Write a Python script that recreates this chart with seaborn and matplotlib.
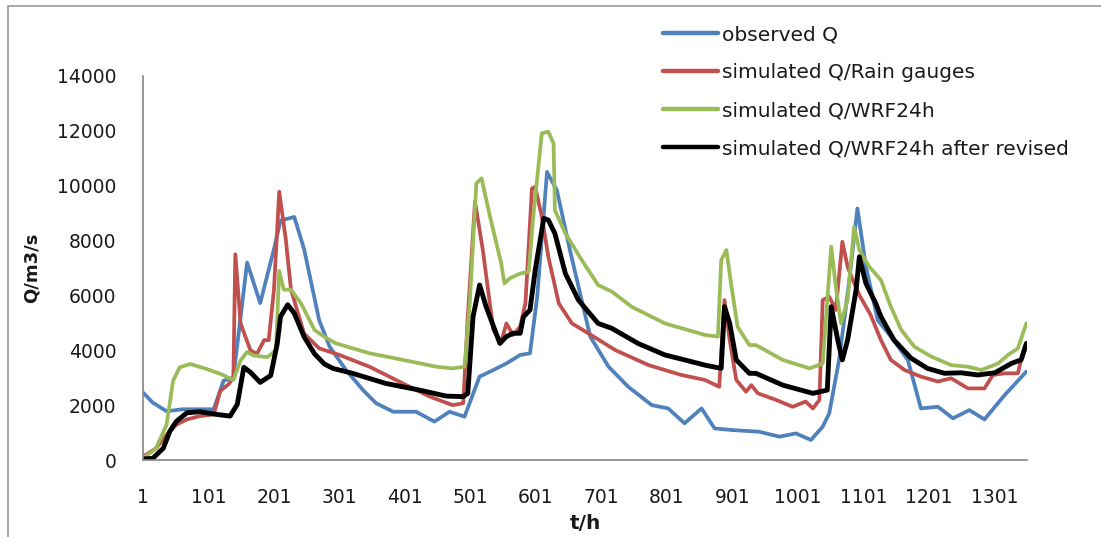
import matplotlib
matplotlib.use("Agg")
import matplotlib.pyplot as plt
from matplotlib.lines import Line2D
import pandas as pd
import seaborn as sns

# series (t in hours, Q in m3/s)
obs_t = [1, 16, 37, 62, 109, 124, 139, 160, 180, 201, 211, 232, 247, 270, 286,
         311, 337, 357, 383, 418, 446, 469, 492, 515, 536, 556, 577, 592, 603, 618,
         633, 653, 684, 712, 742, 778, 803, 828, 854, 874, 902, 942, 973, 998, 1021,
         1039, 1049, 1064, 1079, 1092, 1105, 1123, 1143, 1169, 1189, 1215, 1238, 1263, 1286, 1317,
         1350]
obs_q = [2460, 2090, 1780, 1850, 1850, 2890, 3010, 7200, 5720, 7690, 8730, 8860, 7690, 5100, 4130,
         3280, 2550, 2070, 1760, 1760, 1400, 1760, 1580, 3040, 3280, 3520, 3830, 3890, 5950, 10500,
         9840, 7650, 4500, 3400, 2670, 2000, 1880, 1340, 1880, 1150, 1090, 1030, 850, 970, 730,
         1215, 1700, 3650, 6440, 9170, 7050, 5100, 4500, 3650, 1880, 1940, 1520, 1820, 1480, 2370,
         3220]

rain_t = [1, 21, 37, 52, 68, 88, 109, 119, 132, 139, 142, 150, 165, 175, 186,
          193, 201, 209, 219, 227, 247, 270, 301, 347, 398, 439, 474, 490, 497, 508,
          520, 536, 548, 556, 566, 577, 585, 595, 600, 610, 620, 636, 656, 681, 722,
          773, 823, 859, 881, 889, 897, 907, 922, 930, 940, 968, 993, 1013, 1024, 1034,
          1039, 1049, 1059, 1069, 1077, 1085, 1095, 1112, 1128, 1143, 1164, 1189, 1215, 1235, 1261,
          1286, 1299, 1317, 1337, 1342, 1350]
rain_q = [120, 430, 920, 1290, 1480, 1600, 1660, 2520, 2770, 3010, 7500, 4980, 4000, 3870, 4370,
          4370, 6210, 9780, 8060, 6210, 4610, 4070, 3830, 3400, 2790, 2310, 2000, 2070, 5220, 9420,
          7650, 4740, 4310, 4980, 4560, 4860, 5710, 9900, 9960, 8870, 7410, 5710, 4980, 4620, 4010,
          3460, 3100, 2920, 2670, 5830, 4370, 2920, 2490, 2730, 2430, 2190, 1940, 2130, 1880, 2190,
          5830, 5950, 5470, 7960, 7050, 6560, 6010, 5300, 4370, 3650, 3280, 3040, 2860, 2980, 2610,
          2610, 3100, 3160, 3160, 3650, 4130]

wrf_t = [1, 21, 37, 47, 57, 73, 98, 119, 139, 150, 160, 170, 191, 204, 209,
         216, 227, 242, 263, 278, 296, 347, 398, 449, 474, 492, 500, 510, 518, 531,
         548, 553, 561, 577, 590, 597, 610, 620, 628, 630, 646, 671, 696, 717, 747,
         798, 833, 859, 879, 884, 892, 899, 909, 927, 937, 978, 1019, 1039, 1046, 1052,
         1059, 1067, 1077, 1087, 1095, 1110, 1128, 1143, 1159, 1179, 1205, 1235, 1261, 1281, 1307,
         1322, 1337, 1350]
wrf_q = [60, 430, 1290, 2890, 3380, 3500, 3320, 3140, 2920, 3630, 3940, 3810, 3750, 4000, 6890,
         6210, 6210, 5720, 4740, 4490, 4250, 3890, 3650, 3400, 3340, 3400, 5710, 10080, 10270, 8870,
         7170, 6440, 6620, 6800, 6860, 8870, 11910, 11970, 11540, 9110, 8260, 7290, 6380, 6140, 5590,
         4980, 4740, 4560, 4500, 7290, 7650, 6440, 4860, 4190, 4190, 3650, 3340, 3520, 5830, 7780,
         6320, 4980, 5830, 8500, 7650, 7050, 6560, 5590, 4740, 4130, 3770, 3460, 3400, 3280, 3520,
         3830, 4070, 4980]

rev_t = [1, 16, 32, 42, 52, 68, 88, 114, 134, 145, 155, 165, 180, 196, 206,
         211, 222, 232, 247, 263, 278, 291, 321, 372, 423, 464, 490, 497, 505, 515,
         525, 546, 556, 566, 577, 582, 592, 600, 613, 620, 630, 646, 666, 696, 717,
         757, 798, 828, 859, 884, 889, 897, 907, 927, 937, 978, 1024, 1046, 1052, 1062,
         1069, 1077, 1090, 1095, 1105, 1120, 1128, 1148, 1174, 1199, 1225, 1250, 1276, 1302, 1327,
         1342, 1350]
rev_q = [40, 60, 430, 1050, 1410, 1720, 1760, 1660, 1600, 2030, 3380, 3200, 2830, 3080, 4240,
         5230, 5660, 5350, 4490, 3870, 3500, 3340, 3160, 2790, 2550, 2330, 2310, 2430, 5220, 6380,
         5590, 4250, 4500, 4620, 4620, 5220, 5470, 6930, 8810, 8750, 8260, 6800, 5830, 4980, 4800,
         4250, 3830, 3650, 3460, 3340, 5590, 4980, 3650, 3160, 3160, 2730, 2430, 2550, 5590, 4370,
         3650, 4370, 6200, 7410, 6440, 5710, 5220, 4370, 3710, 3340, 3160, 3180, 3100, 3180, 3520,
         3650, 4250]

labels = ["observed Q", "simulated Q/Rain gauges", "simulated Q/WRF24h",
          "simulated Q/WRF24h after revised"]
colors = ["#4F81BD", "#C0504D", "#9BBB59", "#000000"]
widths = [2.7, 2.7, 2.7, 3.5]

x_labels = [1, 101, 201, 301, 401, 501, 601, 701, 801, 901, 1001, 1101, 1201, 1301]

frames = []
for name, t, q in zip(labels, [obs_t, rain_t, wrf_t, rev_t], [obs_q, rain_q, wrf_q, rev_q]):
    frames.append(pd.DataFrame({"t": t, "Q": q, "series": name}))
df = pd.concat(frames, ignore_index=True)

sns.set_style("white")
plt.rcParams["font.family"] = ["DejaVu Sans"]
axis_gray = "#868686"
text_col = "#1a1a1a"

fig = plt.figure(figsize=(11.01, 5.37), dpi=100)
ax = fig.add_axes([143 / 1101, 77 / 537, 884 / 1101, 384 / 537])

for name, c, lw in zip(labels, colors, widths):
    sns.lineplot(data=df[df["series"] == name], x="t", y="Q", color=c, linewidth=lw,
                 estimator=None, sort=False, label=name, ax=ax)

ax.set_xlim(1, 1351)
ax.set_ylim(0, 14000)
ax.set_yticks(range(0, 14001, 2000))
ax.set_xticks(x_labels)
ax.set_xticks(range(51, 1352, 100), minor=True)
ax.tick_params(axis="y", direction="out", length=5, width=1, color=axis_gray,
               labelsize=13.5, pad=14, labelcolor=text_col)
ax.tick_params(axis="x", which="both", direction="in", length=6, width=1, color=axis_gray,
               labelsize=13.5, pad=20, labelcolor=text_col)
for s in ["top", "right"]:
    ax.spines[s].set_visible(False)
for s in ["left", "bottom"]:
    ax.spines[s].set_color(axis_gray)
    ax.spines[s].set_linewidth(1.2)
ax.grid(False)

ax.set_xlabel("t/h", fontsize=14.5, fontweight="bold", labelpad=5, color=text_col)
ax.set_ylabel("Q/m3/s", fontsize=13, fontweight="bold", labelpad=12, color=text_col)

leg = ax.legend(loc="upper left", bbox_to_anchor=(653 / 1101, 1 - 15 / 537),
                bbox_transform=fig.transFigure, frameon=False, fontsize=14.5,
                handlelength=2.75, handletextpad=0.2, labelspacing=0.95, borderpad=0)
for h in leg.get_lines():
    h.set_linewidth(3.2)
for txt in leg.get_texts():
    txt.set_color(text_col)

# chart frame like the spreadsheet border
fig.add_artist(Line2D([8 / 1101, 8 / 1101], [0, 1 - 6 / 537], color="#9a9a9a", lw=1.2))
fig.add_artist(Line2D([8 / 1101, 1], [1 - 6 / 537, 1 - 6 / 537], color="#9a9a9a", lw=1.2))

fig.savefig("out.png", dpi=100)
